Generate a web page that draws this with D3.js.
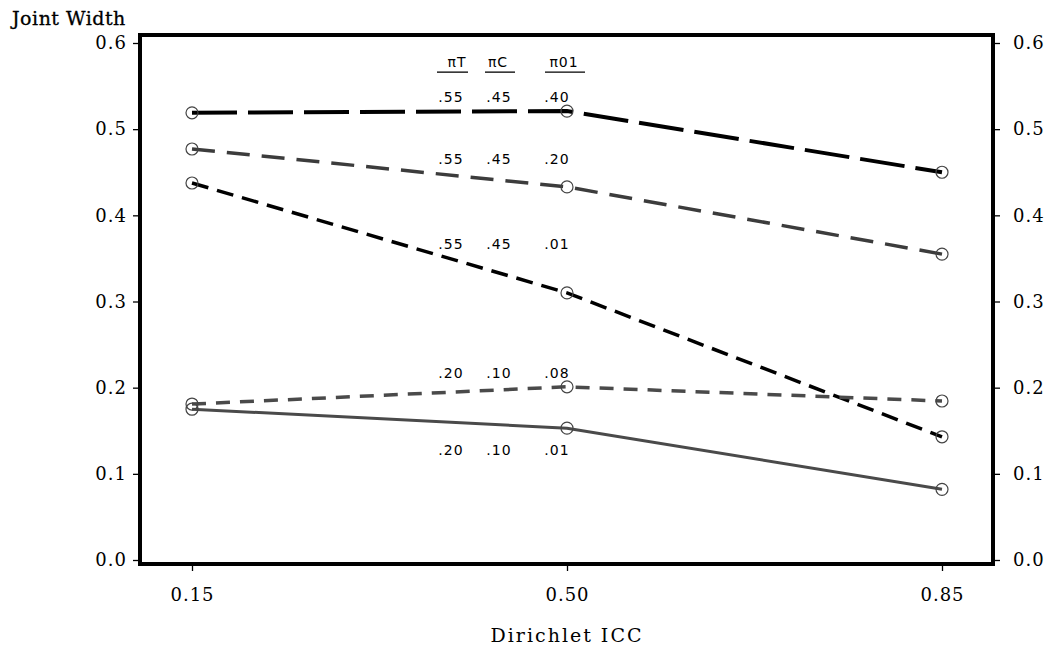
<!DOCTYPE html>
<html>
<head>
<meta charset="utf-8">
<script src="https://cdn.jsdelivr.net/npm/d3@7"></script>
<style>
  html, body { margin: 0; padding: 0; background: #fff; }
  svg { display: block; }
</style>
</head>
<body>
<div id="chart"></div>
<script>
// Chart data
const iccValues = [0.15, 0.50, 0.85];
const xTickLabels = ['0.15', '0.50', '0.85'];
const yTicks = [0.0, 0.1, 0.2, 0.3, 0.4, 0.5, 0.6];

const widthA = [0.519, 0.521, 0.450];   // piT .55, piC .45, pi01 .40
const widthB = [0.477, 0.433, 0.355];   // piT .55, piC .45, pi01 .20
const widthC = [0.4375, 0.310, 0.143];  // piT .55, piC .45, pi01 .01
const widthD = [0.181, 0.201, 0.1845];  // piT .20, piC .10, pi01 .08
const widthE = [0.175, 0.153, 0.082];   // piT .20, piC .10, pi01 .01

const headerLabels = ['\u03c0T', '\u03c0C', '\u03c001'];
const rowLabels = [
  ['.55', '.45', '.40'],
  ['.55', '.45', '.20'],
  ['.55', '.45', '.01'],
  ['.20', '.10', '.08'],
  ['.20', '.10', '.01']
];

// Layout / style
const W = 1052, H = 649;
const frame = { left: 140, right: 993, top: 35, bottom: 564 };
const serif = '"DejaVu Serif", serif';
const sans = '"DejaVu Sans", sans-serif';

const styles = [
  { color: '#000', width: 4, dash: '45,11' },
  { color: '#3c3c3c', width: 3.5, dash: '23,12' },
  { color: '#000', width: 3.5, dash: '17,9' },
  { color: '#4a4a4a', width: 3.5, dash: '14,10' },
  { color: '#4a4a4a', width: 3, dash: null }
];
const series = [widthA, widthB, widthC, widthD, widthE];

// label rows anchored at data value heights
const rowY = [0.531, 0.4596, 0.361, 0.211, 0.122];
const headerY = 0.572;
const colX = [451, 499, 557];
const headerX = [457, 498, 564];
const underline = [[437, 468], [485, 515], [545, 585]];

const x = d3.scaleLinear().domain([0.15, 0.85]).range([192, 942]);
const y = d3.scaleLinear().domain([0, 0.6]).range([560, 43]);

const svg = d3.select('#chart').append('svg')
  .attr('width', W).attr('height', H);

// Lines
const line = d3.line().x((d, i) => x(iccValues[i])).y(d => y(d));
const gLines = svg.append('g').attr('class', 'lines');
series.forEach((s, k) => {
  gLines.append('path')
    .datum(s)
    .attr('d', line)
    .attr('fill', 'none')
    .attr('stroke', styles[k].color)
    .attr('stroke-width', styles[k].width)
    .attr('stroke-dasharray', styles[k].dash)
    .attr('stroke-linecap', 'butt');
});

// Markers
const gPoints = svg.append('g').attr('class', 'points');
series.forEach((s) => {
  gPoints.selectAll(null)
    .data(s)
    .join('circle')
    .attr('cx', (d, i) => x(iccValues[i]))
    .attr('cy', d => y(d))
    .attr('r', 6)
    .attr('fill', 'none')
    .attr('stroke', '#444')
    .attr('stroke-width', 1.2);
});

// Frame
svg.append('rect')
  .attr('x', frame.left).attr('y', frame.top)
  .attr('width', frame.right - frame.left)
  .attr('height', frame.bottom - frame.top)
  .attr('fill', 'none').attr('stroke', '#000').attr('stroke-width', 4);

// Left axis
const gLeft = svg.append('g').attr('transform', `translate(${frame.left - 2},0)`)
  .call(d3.axisLeft(y).tickValues(yTicks).tickFormat(d3.format('.1f')).tickSize(5).tickPadding(6));
// Right axis
const gRight = svg.append('g').attr('transform', `translate(${frame.right + 2},0)`)
  .call(d3.axisRight(y).tickValues(yTicks).tickFormat(d3.format('.1f')).tickSize(5).tickPadding(13));
// Bottom axis
const gBottom = svg.append('g').attr('transform', `translate(0,${frame.bottom + 2})`)
  .call(d3.axisBottom(x).tickValues(iccValues).tickFormat((d, i) => xTickLabels[i]).tickSize(5).tickPadding(17));

[gLeft, gRight, gBottom].forEach(g => {
  g.select('.domain').remove();
  g.selectAll('line').attr('stroke', '#000').attr('stroke-width', 1.3);
  g.selectAll('text')
    .attr('fill', '#000')
    .style('font-family', serif)
    .style('font-size', '18px')
    .style('letter-spacing', '1px');
});

// Axis titles
svg.append('text')
  .attr('x', 12).attr('y', 25)
  .style('font-family', serif).style('font-size', '19px')
  .style('letter-spacing', '0.5px')
  .attr('stroke', '#000').attr('stroke-width', 0.3)
  .text('Joint Width');

svg.append('text')
  .attr('x', x(0.5)).attr('y', 642)
  .attr('text-anchor', 'middle')
  .style('font-family', serif).style('font-size', '19px')
  .style('letter-spacing', '2px')
  .text('Dirichlet ICC');

// In-plot annotation table
const gAnn = svg.append('g').attr('class', 'annotations')
  .style('font-family', sans).style('font-size', '14px')
  .style('letter-spacing', '1px');

headerLabels.forEach((t, i) => {
  gAnn.append('text')
    .attr('x', headerX[i]).attr('y', y(headerY))
    .attr('text-anchor', 'middle')
    .text(t);
  gAnn.append('line')
    .attr('x1', underline[i][0]).attr('x2', underline[i][1])
    .attr('y1', y(headerY) + 5).attr('y2', y(headerY) + 5)
    .attr('stroke', '#000').attr('stroke-width', 1.3);
});

rowLabels.forEach((row, r) => {
  row.forEach((t, i) => {
    gAnn.append('text')
      .attr('x', colX[i]).attr('y', y(rowY[r]))
      .attr('text-anchor', 'middle')
      .text(t);
  });
});
</script>
</body>
</html>
